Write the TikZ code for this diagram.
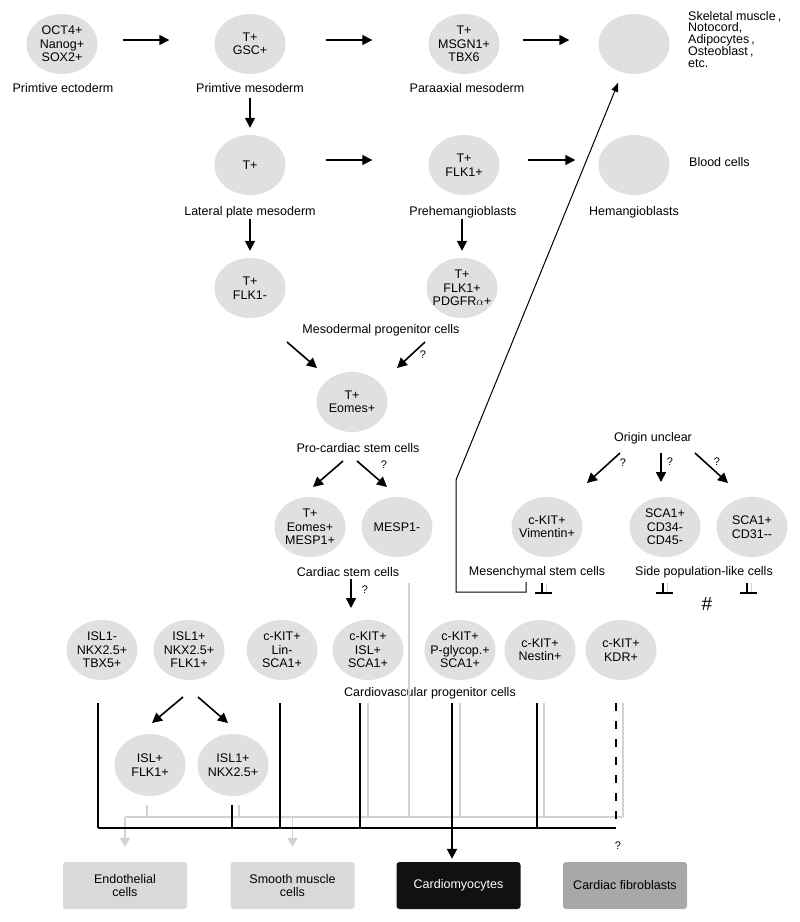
\documentclass[tikz,border=0pt]{standalone}
\usepackage{fontspec}
\setmainfont{Liberation Sans}
\usetikzlibrary{shapes.geometric,arrows.meta}
\definecolor{cellgray}{HTML}{E0E0E0}
\definecolor{linegray}{HTML}{D2D2D2}
\definecolor{boxgray}{HTML}{D9D9D9}
\definecolor{fibgray}{HTML}{A8A8A8}
\definecolor{cmblack}{HTML}{111111}
\newcommand\cellfont{\fontsize{12.5}{13.5}\selectfont}
\newcommand\qfont{\fontsize{11}{12}\selectfont}
\begin{document}
\begin{tikzpicture}[x=1pt,y=-1pt,
  cell/.style={ellipse, fill=cellgray, minimum width=71pt, minimum height=60pt, inner sep=-6pt, align=center, font=\cellfont},
  lbl/.style={font=\cellfont, inner sep=1pt, align=center},
  qm/.style={font=\qfont, inner sep=0pt},
  arr/.style={-{Triangle[length=10pt,width=10pt]}, line width=1.6pt},
  thinarr/.style={-{Triangle[length=9pt,width=7pt]}, line width=1pt},
  garr/.style={draw=linegray, line width=1.8pt, -{Triangle[length=9pt,width=10pt]}},
  gln/.style={draw=linegray, line width=1.8pt},
  bln/.style={draw=black, line width=1.8pt},
  outbox/.style={rounded corners=3pt, minimum width=124pt, minimum height=47pt, align=center, font=\cellfont, inner sep=0pt}
]
\fill[white] (0,0) rectangle (800,922);
\useasboundingbox (0,0) rectangle (800,922);

% ---- row 1
\node[cell] (n1) at (62,44) {OCT4+\\Nanog+\\SOX2+};
\node[cell] (n2) at (250,44) {T+\\GSC+};
\node[cell] (n3) at (464,44) {T+\\MSGN1+\\TBX6};
\node[cell] (n4) at (634,44) {};
\node[lbl] (l1) at (63,88) {Primtive ectoderm};
\node[lbl] (l2) at (250,88) {Primtive mesoderm};
\node[lbl] (l3) at (467,88) {Paraaxial mesoderm};
\node[font=\fontsize{12.5}{11.4}\selectfont, align=left, anchor=north west, inner sep=0pt] (l4) at (688,11)
  {Skeletal muscle\,,\\Notocord,\\Adipocytes\,,\\Osteoblast\,,\\etc.};

\draw[arr] ([xshift=25pt,yshift=4pt]n1.east) -- ([xshift=-45pt,yshift=4pt]n2.west);
\draw[arr] ([xshift=40pt,yshift=4pt]n2.east) -- ([xshift=-56pt,yshift=4pt]n3.west);
\draw[arr] ([xshift=23pt,yshift=4pt]n3.east) -- ([xshift=-29pt,yshift=4pt]n4.west);

% ---- row 2
\node[cell] (n5) at (250,165) {T+};
\node[cell] (n6) at (464,165) {T+\\FLK1+};
\node[cell] (n7) at (634,165) {};
\node[lbl, anchor=west] (l7) at (688,162) {Blood cells};
\node[lbl] (l5) at (250,212) {Lateral plate mesoderm};
\node[lbl] (l6) at (463,212) {Prehemangioblasts};
\node[lbl] (l8) at (634,212) {Hemangioblasts};

\draw[arr] ([yshift=-24pt]n2.south) -- ([yshift=7pt]n5.north);
\draw[arr] ([xshift=40pt,yshift=5pt]n5.east) -- ([xshift=-56pt,yshift=5pt]n6.west);
\draw[arr] ([xshift=28pt,yshift=5pt]n6.east) -- ([xshift=-23pt,yshift=5pt]n7.west);

% ---- row 3
\node[cell] (n8) at (250,288) {T+\\FLK1-};
\node[cell] (n9) at (462,288) {T+\\FLK1+\\PDGFR$\alpha$+};
\draw[arr, shorten >=7pt] (l5.south -| n8) -- (n8.north);
\draw[arr, shorten >=7pt] (l6.south -| n9) -- (n9.north);
\node[lbl] (l9) at (381,330) {Mesodermal progenitor cells};

\node[cell] (n10) at (352,402) {T+\\Eomes+};
\coordinate (m1) at (287,342);
\coordinate (m2) at (425,342);
\draw[arr] (m1) -- (317,368);
\draw[arr] (m2) -- (397,368);
\node[qm] (q1) at (423,355) {?};

\node[lbl] (l10) at (358,448) {Pro-cardiac stem cells};
\coordinate (p1) at (343,461);
\coordinate (p2) at (357,461);
\node[cell] (n11) at (310,527) {T+\\Eomes+\\MESP1+};
\node[cell] (n12) at (397,527) {MESP1-};
\draw[arr] (p1) -- (313,487);
\draw[arr] (p2) -- (387,487);
\node[qm] (q2) at (384,465) {?};
\node[lbl] (l11) at (348,572) {Cardiac stem cells};

% ---- right middle
\node[lbl] (l12) at (653,438) {Origin unclear};
\node[cell] (n13) at (547,527) {c-KIT+\\Vimentin+};
\node[cell] (n14) at (665,527) {SCA1+\\CD34-\\CD45-};
\node[cell] (n15) at (752,527) {SCA1+\\CD31-{}-};
\coordinate (o1) at (620,453);
\coordinate (o2) at (661,453);
\coordinate (o3) at (695,453);
\draw[arr] (o1) -- (587,483);
\draw[arr] (o2) -- (661,482);
\draw[arr] (o3) -- (728,483);
\node[qm] (q3) at (623,463) {?};
\node[qm] (q4) at (670,462) {?};
\node[qm] (q5) at (717,462) {?};
\node[lbl] (l13) at (537,572) {Mesenchymal stem cells};
\node[lbl] (l14) at (704,572) {Side population-like cells};
\node[font=\fontsize{19}{20}\selectfont, inner sep=0pt] (hash) at (707,604) {\#};

% inhibitor marks
\foreach \x in {542,663,747}{
  \draw[gln, line width=1.5pt] (\x+4.5,583) -- (\x+4.5,592);
  \draw[bln, line width=1.6pt] (\x,583) -- (\x,592);
  \draw[bln, line width=1.6pt] (\x-7,593) -- (\x+10,593);
}

% mesenchymal line to top circle
\coordinate (mb1) at (526,582);
\draw[thinarr, shorten >=11pt] (mb1) -- (526,592) -- (456,592) -- (456,480) -- (n4);

% ---- row 4
\node[cell] (n16) at (102,650) {ISL1-\\NKX2.5+\\TBX5+};
\node[cell] (n17) at (189,650) {ISL1+\\NKX2.5+\\FLK1+};
\node[cell] (n18) at (282,650) {c-KIT+\\Lin-\\SCA1+};
\node[cell] (n19) at (368,650) {c-KIT+\\ISL+\\SCA1+};
\node[cell] (n20) at (460,650) {c-KIT+\\P-glycop.+\\SCA1+};
\node[cell] (n21) at (540,650) {c-KIT+\\Nestin+};
\node[cell] (n22) at (621,650) {c-KIT+\\KDR+};
\draw[arr] (351,579) -- (351,608);
\node[qm] (q6) at (365,590) {?};
\node[lbl] (l15) at (430,693) {Cardiovascular progenitor cells};

\node[cell, minimum height=62pt] (n23) at (150,765) {ISL+\\FLK1+};
\node[cell, minimum height=62pt] (n24) at (233,765) {ISL1+\\NKX2.5+};
\coordinate (s1) at (183,697);
\coordinate (s2) at (198,697);
\draw[arr] (s1) -- (152,723);
\draw[arr] (s2) -- (228,723);

% ---- output boxes
\node[outbox, fill=boxgray] (b1) at (125,885.5) {Endothelial\\cells};
\node[outbox, fill=boxgray] (b2) at (292.5,885.5) {Smooth muscle\\cells};
\node[outbox, fill=cmblack, text=white] (b3) at (458.5,885.5) {Cardiomyocytes};
\node[outbox, fill=fibgray] (b4) at (625,885.5) {Cardiac fibroblasts};
\node[qm] (q7) at (618,846) {?};

% ---- gray bus
\draw[gln] (409,583) -- (409,817);
\foreach \x in {368,460,544,623}{ \draw[gln] (\x,703) -- (\x,817); }
\draw[gln] (147,805) -- (147,817);
\draw[gln] (239,805) -- (239,817);
\draw[gln] (125,817) -- (623,817);
\draw[garr, shorten >=15pt] (125,817) -- (b1.north);
\draw[garr, shorten >=15pt] (292.5,817) -- (b2.north);

% ---- black bus
\foreach \x in {98,280,360,537}{ \draw[bln] (\x,703) -- (\x,828); }
\draw[bln, dash pattern=on 8pt off 10pt] (616,703) -- (616,828);
\draw[bln] (232,805) -- (232,828);
\draw[bln] (98,828) -- (616,828);
\coordinate (cT) at (452,703);
\draw[arr, line width=1.8pt, shorten >=3pt] (cT) -- (cT |- b3.north);

\end{tikzpicture}
\end{document}
